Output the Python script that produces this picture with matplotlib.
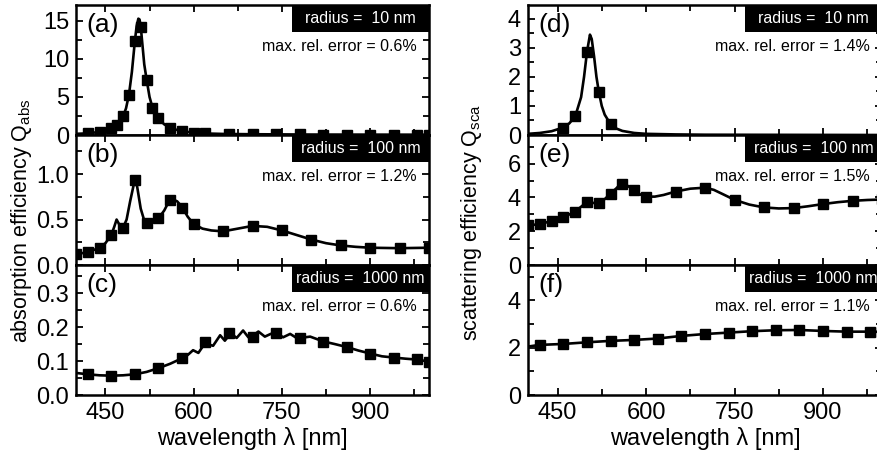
import matplotlib
matplotlib.use('Agg')
import matplotlib.pyplot as plt
from matplotlib.patches import Rectangle
from matplotlib.ticker import MultipleLocator

plt.rcParams['font.family'] = ['Liberation Sans', 'DejaVu Sans']
plt.rcParams['mathtext.fontset'] = 'custom'
plt.rcParams['mathtext.rm'] = 'Liberation Sans'
plt.rcParams['mathtext.it'] = 'Liberation Sans:italic'

# ---- (a) absorption, r = 10 nm
a_line_nm = [400, 420, 440, 460, 470, 480, 485, 490, 495, 500, 503, 506, 508, 510, 513, 516,
             520, 525, 530, 535, 540, 550, 560, 570, 580, 600, 620, 650, 700, 750, 800, 900, 1000]
a_line_q = [0.15, 0.22, 0.40, 0.90, 1.35, 2.45, 3.5, 5.3, 8.3, 12.3, 14.3, 15.3, 15.2, 14.3, 11.8, 9.3,
            7.3, 5.0, 3.6, 2.8, 2.2, 1.4, 0.95, 0.7, 0.5, 0.3, 0.2, 0.14, 0.1, 0.08, 0.06, 0.05, 0.04]
a_mark_nm = [420, 440, 460, 470, 480, 490, 500, 510, 520, 530, 540, 560, 580, 600, 620,
             660, 700, 740, 780, 820, 860, 900, 940, 980, 1000]
a_mark_q = [0.22, 0.40, 0.90, 1.35, 2.45, 5.3, 12.3, 14.2, 7.3, 3.6, 2.2, 0.95, 0.5, 0.3, 0.2,
            0.14, 0.1, 0.08, 0.07, 0.06, 0.05, 0.05, 0.04, 0.04, 0.04]

# ---- (b) absorption, r = 100 nm
b_line_nm = [400, 420, 440, 450, 460, 465, 469, 474, 480, 486, 492, 500, 504, 510, 516, 521, 530,
             541, 550, 558, 565, 572, 580, 590, 600, 615, 630, 650, 675, 700, 725, 750, 775, 800,
             825, 850, 875, 900, 950, 1000]
b_line_q = [0.12, 0.14, 0.19, 0.24, 0.33, 0.42, 0.50, 0.44, 0.41, 0.50, 0.70, 0.94, 0.86, 0.62, 0.49,
            0.46, 0.48, 0.52, 0.60, 0.70, 0.72, 0.70, 0.64, 0.53, 0.45, 0.40, 0.38, 0.37, 0.40, 0.43,
            0.42, 0.38, 0.33, 0.28, 0.24, 0.215, 0.20, 0.19, 0.185, 0.19]
b_mark_nm = [400, 420, 440, 460, 480, 500, 520, 540, 560, 580, 600, 650, 700, 750, 800, 850, 900, 950, 1000]
b_mark_q = [0.12, 0.14, 0.19, 0.33, 0.41, 0.94, 0.46, 0.52, 0.71, 0.63, 0.45, 0.37, 0.43, 0.38,
            0.28, 0.22, 0.19, 0.19, 0.19]

# ---- (c) absorption, r = 1000 nm
c_line_nm = [400, 420, 440, 460, 480, 500, 520, 540, 560, 580, 590, 599, 608, 619, 633, 645, 653,
             663, 673, 684, 693, 701, 710, 721, 731, 741, 752, 764, 775, 781, 798, 820, 840, 861,
             880, 903, 920, 942, 960, 982, 1000]
c_line_q = [0.065, 0.061, 0.058, 0.057, 0.058, 0.061, 0.068, 0.079, 0.092, 0.108, 0.118, 0.132,
            0.124, 0.152, 0.145, 0.176, 0.160, 0.182, 0.168, 0.190, 0.170, 0.175, 0.187, 0.172,
            0.180, 0.183, 0.170, 0.180, 0.168, 0.168, 0.172, 0.158, 0.150, 0.141, 0.131, 0.121,
            0.114, 0.110, 0.107, 0.104, 0.098]
c_mark_nm = [420, 460, 500, 540, 580, 620, 660, 700, 740, 780, 820, 860, 900, 940, 980, 1000]
c_mark_q = [0.062, 0.057, 0.062, 0.079, 0.108, 0.157, 0.182, 0.172, 0.182, 0.167, 0.157, 0.141,
            0.121, 0.110, 0.105, 0.098]

# ---- (d) scattering, r = 10 nm
d_line_nm = [400, 420, 440, 460, 470, 480, 490, 495, 500, 505, 508, 512, 516, 520, 525, 530, 540,
             550, 560, 580, 600, 650, 700, 1000]
d_line_q = [0.04, 0.07, 0.13, 0.26, 0.40, 0.64, 1.3, 2.0, 2.86, 3.45, 3.3, 2.7, 2.0, 1.49, 1.0, 0.7,
            0.37, 0.22, 0.14, 0.07, 0.04, 0.02, 0.01, 0.0]
d_mark_nm = [460, 480, 500, 520, 540]
d_mark_q = [0.25, 0.64, 2.86, 1.49, 0.37]

# ---- (e) scattering, r = 100 nm
e_line_nm = [400, 420, 440, 460, 480, 490, 500, 510, 520, 530, 540, 550, 558, 565, 580, 590, 600,
             615, 630, 650, 675, 700, 715, 730, 750, 775, 800, 825, 850, 875, 900, 925, 950, 975, 1000]
e_line_q = [2.32, 2.44, 2.59, 2.83, 3.16, 3.45, 3.74, 3.68, 3.65, 3.90, 4.23, 4.55, 4.85, 4.78,
            4.43, 4.18, 4.05, 4.05, 4.15, 4.35, 4.52, 4.58, 4.45, 4.20, 3.86, 3.58, 3.41, 3.35,
            3.37, 3.48, 3.61, 3.72, 3.80, 3.85, 3.88]
e_mark_nm = [400, 420, 440, 460, 480, 500, 520, 540, 560, 580, 600, 650, 700, 750, 800, 850, 900, 950, 1000]
e_mark_q = [2.34, 2.44, 2.59, 2.83, 3.16, 3.74, 3.65, 4.23, 4.78, 4.43, 4.05, 4.35, 4.58, 3.86,
            3.41, 3.37, 3.61, 3.80, 3.88]

# ---- (f) scattering, r = 1000 nm
f_line_nm = [400, 420, 460, 500, 540, 580, 620, 660, 700, 740, 780, 820, 860, 900, 940, 980, 1000]
f_line_q = [2.05, 2.12, 2.16, 2.23, 2.29, 2.33, 2.39, 2.50, 2.58, 2.64, 2.70, 2.74, 2.75, 2.71,
            2.68, 2.68, 2.67]
f_mark_nm = [420, 460, 500, 540, 580, 620, 660, 700, 740, 780, 820, 860, 900, 940, 980, 1000]
f_mark_q = [2.12, 2.16, 2.23, 2.29, 2.33, 2.39, 2.50, 2.58, 2.64, 2.70, 2.74, 2.75, 2.71, 2.68,
            2.68, 2.67]

tags = ['(a)', '(b)', '(c)', '(d)', '(e)', '(f)']
radii = ['radius =  10 nm', 'radius =  100 nm', 'radius =  1000 nm'] * 2
errors = ['max. rel. error = 0.6%', 'max. rel. error = 1.2%', 'max. rel. error = 0.6%',
          'max. rel. error = 1.4%', 'max. rel. error = 1.5%', 'max. rel. error = 1.1%']
ylims = [17.1, 1.43, 0.383, 4.47, 7.7, 5.5]
ymajor = [5, 0.5, 0.1, 1, 2, 2]
yminor = [2.5, 0.25, 0.05, 0.5, 1, 1]
ytick_max = [15, 1.0, 0.3, 4, 6, 4]

lines = [(a_line_nm, a_line_q), (b_line_nm, b_line_q), (c_line_nm, c_line_q),
         (d_line_nm, d_line_q), (e_line_nm, e_line_q), (f_line_nm, f_line_q)]
marks = [(a_mark_nm, a_mark_q), (b_mark_nm, b_mark_q), (c_mark_nm, c_mark_q),
         (d_mark_nm, d_mark_q), (e_mark_nm, e_mark_q), (f_mark_nm, f_mark_q)]

W, H = 877, 454
fig = plt.figure(figsize=(W / 100, H / 100), dpi=100)

col_left = [76, 528]
col_width = [353, 354]
row_top = [5, 135, 265]
row_h = 130

for i in range(6):
    col, row = divmod(i, 3)
    ax = fig.add_axes([col_left[col] / W, 1 - (row_top[row] + row_h) / H,
                       col_width[col] / W, row_h / H])
    lx, ly = lines[i]
    mx, my = marks[i]
    ax.plot(lx, ly, '-', color='black', linewidth=1.9)
    ax.plot(mx, my, 's', color='black', markersize=6.6, linestyle='none')

    ax.set_xlim(400, 1000)
    ax.xaxis.set_minor_locator(MultipleLocator(75))
    ax.set_xticks([450, 600, 750, 900])
    ax.yaxis.set_minor_locator(MultipleLocator(yminor[i]))
    ax.set_yticks([v * ymajor[i] for v in range(int(round(ytick_max[i] / ymajor[i])) + 1)])
    ax.set_ylim(0, ylims[i])

    ax.tick_params(which='both', direction='in', top=True, right=True, width=1.3, labelsize=17, pad=5)
    ax.tick_params(which='major', length=5)
    ax.tick_params(which='minor', length=4)
    if row < 2:
        ax.tick_params(labelbottom=False)
    else:
        ax.set_xlabel('wavelength λ [nm]', fontsize=17, labelpad=2)
    for s in ax.spines.values():
        s.set_linewidth(1.8)

    ax.text(0.03, 0.935, tags[i], transform=ax.transAxes, fontsize=19, ha='left', va='top')
    ax.add_patch(Rectangle((0.612, 0.792), 0.388, 0.208, transform=ax.transAxes,
                           facecolor='black', edgecolor='none', zorder=5, clip_on=False))
    ax.text(0.806, 0.893, radii[i], transform=ax.transAxes, fontsize=11.5, color='white',
            ha='center', va='center', zorder=6)
    ax.text(0.966, 0.677, errors[i], transform=ax.transAxes, fontsize=11.5,
            ha='right', va='center', zorder=6)

fig.text(0.024, 0.515, r'absorption efficiency $\mathrm{Q}_{\mathrm{abs}}$', rotation=90,
         ha='center', va='center', fontsize=15.5)
fig.text(0.538, 0.51, r'scattering efficiency $\mathrm{Q}_{\mathrm{sca}}$', rotation=90,
         ha='center', va='center', fontsize=15.5)

fig.savefig('out.png', dpi=100, facecolor='white')
